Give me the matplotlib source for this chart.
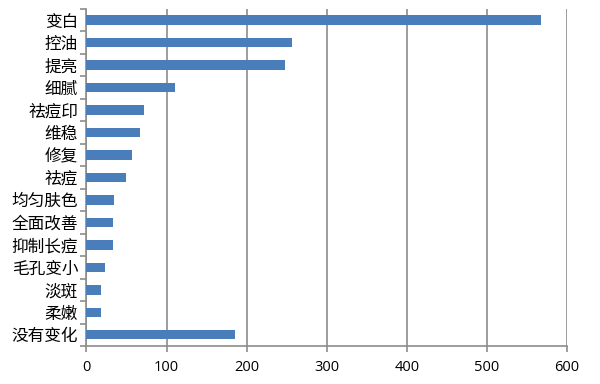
import matplotlib.pyplot as plt
import numpy as np

plt.rcParams['font.family'] = ['Noto Sans CJK SC', 'DejaVu Sans']

categories = ['变白', '控油', '提亮', '细腻', '祛痘印', '维稳', '修复', '祛痘',
              '均匀肤色', '全面改善', '抑制长痘', '毛孔变小', '淡斑', '柔嫩', '没有变化']
values = [567, 257, 248, 111, 72, 67, 57, 49, 35, 33, 33, 23, 18, 18, 186]
xticks = [0, 100, 200, 300, 400, 500, 600]

fig = plt.figure(figsize=(6, 3.84), dpi=100)
ax = fig.add_axes([0.144, 0.099, 0.801, 0.878])

y = np.arange(len(categories))
ax.barh(y, values, height=0.42, color='#4a7ebb', zorder=3)

ax.set_ylim(len(categories) - 0.5, -0.5)
ax.set_xlim(0, 600)
ax.set_xticks(xticks)
ax.set_xticklabels([str(t) for t in xticks], fontsize=10.5, family=['Open Sans', 'DejaVu Sans'])
ax.set_yticks(y)
ax.set_yticklabels(categories, fontsize=12)
ax.set_yticks(np.arange(len(categories) + 1) - 0.5, minor=True)

ax.grid(axis='x', color='#8c8c8c', linewidth=1.2, zorder=0)
for s in ['top', 'right']:
    ax.spines[s].set_visible(False)
for s in ['left', 'bottom']:
    ax.spines[s].set_color('#8c8c8c')
    ax.spines[s].set_linewidth(1.2)

ax.tick_params(axis='y', which='major', length=0, pad=6)
ax.tick_params(axis='y', which='minor', length=4, color='#8c8c8c', width=1.2)
ax.tick_params(axis='x', which='major', length=4, color='#8c8c8c', width=1.2, pad=6)

fig.savefig('out.png', dpi=100)
